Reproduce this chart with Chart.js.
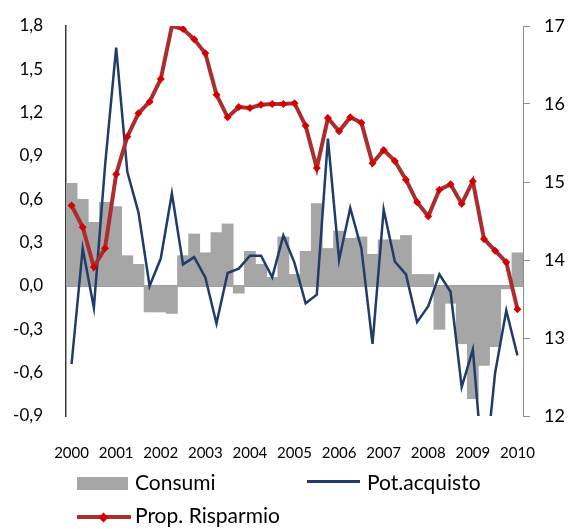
<!DOCTYPE html>
<html>
<head>
<meta charset="utf-8">
<script src="https://cdn.jsdelivr.net/npm/chart.js@4.4.1/dist/chart.umd.min.js"></script>
<style>
  html, body { margin: 0; padding: 0; background: #fff; }
  #wrap { position: relative; width: 571px; height: 529px; font-family: Lato, 'Open Sans', sans-serif; }
  #chart { position: absolute; left: 0; top: 0; }
  .lg-text { position: absolute; font-size: 21px; line-height: 24px; color: #000; white-space: nowrap; }
  .lg-mark { position: absolute; }
</style>
</head>
<body>
<div id="wrap">
  <canvas id="chart" width="571" height="529"></canvas>
  <div id="legend"></div>
</div>
<script>
// trimestri 2000 T1 .. 2010 T1
const quarters = [
  '2000 T1', '2000 T2', '2000 T3', '2000 T4',
  '2001 T1', '2001 T2', '2001 T3', '2001 T4',
  '2002 T1', '2002 T2', '2002 T3', '2002 T4',
  '2003 T1', '2003 T2', '2003 T3', '2003 T4',
  '2004 T1', '2004 T2', '2004 T3', '2004 T4',
  '2005 T1', '2005 T2', '2005 T3', '2005 T4',
  '2006 T1', '2006 T2', '2006 T3', '2006 T4',
  '2007 T1', '2007 T2', '2007 T3', '2007 T4',
  '2008 T1', '2008 T2', '2008 T3', '2008 T4',
  '2009 T1', '2009 T2', '2009 T3', '2009 T4',
  '2010 T1'
];
const yearTicks = ['2000', '2001', '2002', '2003', '2004', '2005', '2006', '2007', '2008', '2009', '2010'];

// Consumi (asse sinistro)
const consumi = [
  0.71, 0.60, 0.44, 0.58, 0.55, 0.21, 0.15, -0.18, -0.18, -0.19,
  0.21, 0.36, 0.23, 0.37, 0.43, -0.05, 0.24, 0.15, 0.06, 0.34,
  0.08, 0.24, 0.57, 0.26, 0.38, 0.33, 0.34, 0.22, 0.32, 0.32,
  0.35, 0.08, 0.08, -0.30, -0.12, -0.40, -0.78, -0.55, -0.42, -0.02,
  0.23
];
// Pot.acquisto (asse sinistro)
const potAcquisto = [
  -0.54, 0.26, -0.15, 0.83, 1.65, 0.79, 0.51, 0.00, 0.19, 0.64,
  0.15, 0.20, 0.06, -0.26, 0.09, 0.12, 0.21, 0.21, 0.06, 0.35,
  0.16, -0.12, -0.06, 1.02, 0.18, 0.54, 0.26, -0.40, 0.53, 0.17,
  0.08, -0.25, -0.14, 0.08, -0.04, -0.70, -0.44, -1.36, -0.60, -0.17,
  -0.48
];
// Prop. Risparmio (asse destro)
const propRisparmio = [
  14.70, 14.42, 13.91, 14.15, 15.10, 15.58, 15.88, 16.03, 16.32, 17.00,
  16.96, 16.83, 16.65, 16.12, 15.83, 15.96, 15.95, 15.99, 16.00, 16.00,
  16.01, 15.72, 15.18, 15.82, 15.65, 15.83, 15.76, 15.24, 15.41, 15.27,
  15.03, 14.74, 14.56, 14.90, 14.97, 14.72, 15.01, 14.27, 14.12, 13.97,
  13.37
];

const seriesNames = ['Consumi', 'Pot.acquisto', 'Prop. Risparmio'];
const grigio = '#a6a6a6';
const blu = '#1f3c6b';
const rosso = '#ab2d2d';
const rossoMarker = '#d40000';
const font = 'Lato';

const ctx = document.getElementById('chart').getContext('2d');
const chart = new Chart(ctx, {
  data: {
    labels: quarters,
    datasets: [
      {
        type: 'line',
        label: seriesNames[2],
        data: propRisparmio,
        yAxisID: 'y1',
        borderColor: rosso,
        borderWidth: 4,
        pointStyle: 'rectRot',
        pointRadius: c => (c.raw >= 17 ? 0 : 4),
        pointBackgroundColor: rossoMarker,
        pointBorderWidth: 0,
        tension: 0,
        order: 1
      },
      {
        type: 'line',
        label: seriesNames[1],
        data: potAcquisto,
        yAxisID: 'y',
        borderColor: blu,
        borderWidth: 2.5,
        pointRadius: 0,
        tension: 0,
        order: 2
      },
      {
        type: 'bar',
        label: seriesNames[0],
        data: consumi,
        yAxisID: 'y',
        backgroundColor: grigio,
        borderWidth: 0,
        barPercentage: 1,
        categoryPercentage: 1,
        order: 3
      }
    ]
  },
  options: {
    responsive: false,
    devicePixelRatio: 1,
    animation: false,
    layout: { padding: { top: 26, left: 0, right: 0, bottom: 0 } },
    plugins: {
      legend: { display: false },
      tooltip: { enabled: false }
    },
    scales: {
      x: {
        grid: { display: false, drawTicks: false },
        border: { display: false },
        ticks: {
          autoSkip: false,
          maxRotation: 0,
          padding: 28,
          color: '#000',
          font: { family: font, size: 15 },
          callback: (v, i) => (i % 4 === 0 ? yearTicks[i / 4] : '')
        },
        afterFit: s => { s.height = 113; }
      },
      y: {
        position: 'left',
        min: -0.9,
        max: 1.8,
        ticks: {
          stepSize: 0.3,
          padding: 0,
          color: '#000',
          font: { family: font, size: 17 },
          callback: v => v.toFixed(1).replace('.', ',')
        },
        grid: {
          drawTicks: true,
          tickLength: 23,
          tickColor: 'rgba(0,0,0,0)',
          lineWidth: 2,
          color: c => (Math.abs(c.tick.value) < 1e-9 ? '#9a9a9a' : 'rgba(0,0,0,0)')
        },
        border: { display: true, color: '#3a3a3a', width: 1.5 },
        afterFit: s => { s.width = 66; }
      },
      y1: {
        position: 'right',
        min: 12,
        max: 17,
        ticks: {
          stepSize: 1,
          padding: 14,
          color: '#000',
          font: { family: font, size: 18 }
        },
        grid: { drawOnChartArea: false, drawTicks: true, tickLength: 7, color: '#8c8c8c' },
        border: { display: true, color: '#8c8c8c', width: 1 },
        afterFit: s => { s.width = 48; }
      }
    }
  }
});

// legenda in HTML, come nel grafico originale (due righe)
const legend = document.getElementById('legend');
function addText(txt, left, top) {
  const d = document.createElement('div');
  d.className = 'lg-text';
  d.style.left = left + 'px';
  d.style.top = top + 'px';
  d.textContent = txt;
  legend.appendChild(d);
}
function addMark(left, top, w, h, color, rot) {
  const d = document.createElement('div');
  d.className = 'lg-mark';
  d.style.left = left + 'px';
  d.style.top = top + 'px';
  d.style.width = w + 'px';
  d.style.height = h + 'px';
  d.style.background = color;
  if (rot) d.style.transform = 'rotate(45deg)';
  legend.appendChild(d);
}
const ds = chart.data.datasets;
// Consumi
addMark(77, 477, 51, 13, ds[2].backgroundColor);
addText(ds[2].label, 135, 470);
// Pot.acquisto
addMark(307, 480, 53, 2.5, ds[1].borderColor);
addText(ds[1].label, 367, 470);
// Prop. Risparmio
addMark(77, 515, 54, 4, ds[0].borderColor);
addMark(100, 513.5, 7, 7, ds[0].pointBackgroundColor, true);
addText(ds[0].label, 135, 503);
</script>
</body>
</html>
